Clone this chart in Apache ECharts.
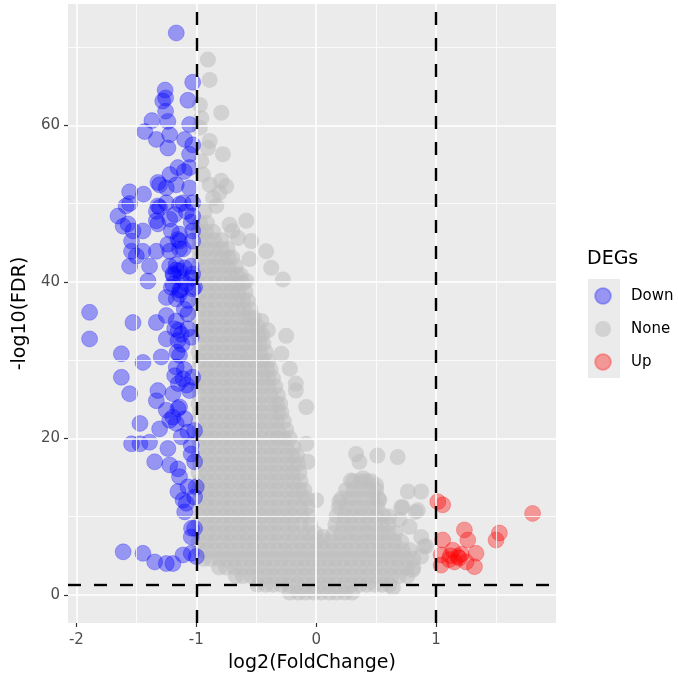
<!DOCTYPE html>
<html>
<head>
<meta charset="utf-8">
<script src="https://cdn.jsdelivr.net/npm/echarts@6/dist/echarts.min.js"></script>
<style>
  html, body { margin: 0; padding: 0; background: #fff; }
  #chart { width: 678px; height: 680px; }
</style>
</head>
<body>
<div id="chart"></div>
<script>
// axis ticks / grid
const xTicks = [-2, -1, 0, 1];
const xMinor = [-1.5, -0.5, 0.5, 1.5];
const yTicks = [0, 20, 40, 60];
const yMinor = [10, 30, 50, 70];
// thresholds
const fcCut = [-1, 1];
const fdrCut = 1.3;

// Down genes [log2FC, -log10FDR]
const downPoints = [
  [-1.167, 71.8], [-1.03, 65.5], [-1.26, 64.5], [-1.256, 63.5], [-1.28, 63.1], [-1.256, 61.8], [-1.07, 63.2],
  [-1.37, 60.6], [-1.43, 59.2], [-1.237, 60.5], [-1.056, 60.1], [-1.333, 58.2], [-1.222, 58.8], [-1.237, 57.1],
  [-1.097, 58.2], [-1.056, 56.3], [-1.03, 57.5], [-1.153, 54.6], [-1.1, 54.1], [-1.22, 53.7], [-1.306, 52.4],
  [-1.25, 52.0], [-1.167, 52.4], [-1.056, 52.0], [-1.556, 51.5], [-1.44, 51.2], [-1.03, 50.1], [-1.556, 50.0],
  [-1.32, 49.7], [-1.25, 50.1], [-1.11, 50.1], [-1.056, 54.6], [-1.32, 52.7], [-1.333, 49.0], [-1.14, 49.9],
  [-1.03, 48.4], [-1.653, 48.4], [-1.333, 47.8], [-1.222, 48.0], [-1.57, 47.4], [-1.528, 46.5], [-1.445, 46.5],
  [-1.208, 46.5], [-1.14, 46.1], [-1.03, 46.5], [-1.54, 45.2], [-1.14, 45.2], [-1.03, 45.2], [-1.54, 43.9],
  [-1.445, 43.9], [-1.333, 43.9], [-1.5, 43.3], [-1.14, 44.2], [-1.222, 42.0], [-1.167, 42.2], [-1.556, 42.0],
  [-1.39, 42.0], [-1.195, 41.0], [-1.125, 40.5], [-1.03, 41.0], [-1.403, 40.1], [-1.195, 39.7], [-1.083, 39.7],
  [-1.014, 39.3], [-1.25, 38.0], [-1.14, 38.4], [-1.89, 36.1], [-1.528, 34.8], [-1.333, 34.8], [-1.25, 35.7],
  [-1.167, 35.0], [-1.07, 35.9], [-1.89, 32.7], [-1.586, 49.7], [-1.306, 49.5], [-1.18, 48.6], [-1.083, 49.0],
  [-1.61, 47.1], [-1.32, 47.4], [-1.042, 47.6], [-1.237, 44.8], [-1.153, 45.4], [-1.222, 43.9], [-1.11, 44.2],
  [-1.14, 41.4], [-1.042, 42.0], [-1.042, 40.5], [-1.208, 39.3], [-1.14, 38.9], [-1.03, 39.1], [-1.167, 37.8],
  [-1.07, 37.6], [-1.18, 34.0], [-1.125, 33.3], [-1.07, 34.0], [-1.25, 32.7], [-1.153, 32.5], [-1.042, 32.9],
  [-1.625, 30.8], [-1.445, 29.7], [-1.292, 30.4], [-1.14, 30.6], [-1.167, 29.1], [-1.18, 28.0], [-1.11, 27.6],
  [-1.03, 27.8], [-1.625, 27.8], [-1.556, 25.7], [-1.32, 26.1], [-1.195, 25.7], [-1.056, 26.1],
  [-1.17, 41.5], [-1.1, 41.8], [-1.13, 39.0], [-1.19, 40.8], [-1.1, 36.5], [-1.15, 33.8], [-1.12, 32.0],
  [-1.16, 31.0], [-1.1, 28.8], [-1.15, 27.0], [-1.08, 26.8],
  [-1.333, 24.8], [-1.25, 23.6], [-1.153, 23.8], [-1.47, 21.9], [-1.306, 21.2], [-1.222, 22.3], [-1.167, 21.9],
  [-1.097, 22.5], [-1.07, 20.8], [-1.014, 21.0], [-1.125, 20.2], [-1.54, 19.3], [-1.47, 19.3], [-1.39, 19.5],
  [-1.237, 18.7], [-1.042, 19.1], [-1.042, 18.0], [-1.347, 17.0], [-1.222, 16.6], [-1.153, 16.1], [-1.014, 17.0],
  [-1.14, 15.1], [-1.07, 13.8], [-1.153, 13.2], [-1.11, 12.1], [-1.014, 12.5], [-1.083, 11.7], [-1.097, 10.6],
  [-1.014, 8.5], [-1.042, 7.4], [-1.61, 5.5], [-1.445, 5.3], [-1.347, 4.2], [-1.25, 4.0], [-1.195, 4.0],
  [-1.11, 5.1], [-1.042, 5.3], [-1.0, 4.9], [-1.14, 24.0], [-1.195, 22.7], [-1.0, 13.8], [-1.04, 8.5]
];

// Up genes
const upPoints = [
  [1.014, 11.9], [1.055, 11.5], [1.805, 10.4], [1.236, 8.3], [1.528, 7.9], [1.5, 7.0], [1.264, 7.0],
  [1.055, 7.0], [1.139, 5.7], [1.333, 5.3], [1.042, 5.1], [1.194, 4.7], [1.153, 4.2], [1.25, 4.2],
  [1.042, 3.8], [1.32, 3.6], [1.11, 4.5], [1.21, 5.2], [1.18, 4.9], [1.12, 5.0]
];

// None genes, dense cloud: [y, x, x, ...]
const noneRows = [
  [0.3, -0.22, -0.15, -0.09, -0.02, 0.04, 0.11, 0.17, 0.24, 0.30],
  [1.3, -0.49, -0.42, -0.36, -0.29, -0.23, -0.16, -0.10, -0.03, 0.03, 0.10, 0.16, 0.23, 0.29, 0.36, 0.42, 0.49, 0.55, 0.61],
  [2.4, -0.67, -0.61, -0.54, -0.48, -0.41, -0.35, -0.28, -0.22, -0.15, -0.09, -0.02, 0.04, 0.11, 0.17, 0.24, 0.30, 0.37, 0.43, 0.50, 0.56, 0.63, 0.69, 0.76],
  [3.5, -0.81, -0.75, -0.68, -0.62, -0.55, -0.49, -0.42, -0.36, -0.29, -0.23, -0.16, -0.10, -0.03, 0.03, 0.10, 0.16, 0.23, 0.29, 0.36, 0.42, 0.49, 0.55, 0.62, 0.68, 0.75, 0.81],
  [4.6, -0.94, -0.88, -0.81, -0.75, -0.68, -0.62, -0.55, -0.49, -0.42, -0.36, -0.29, -0.23, -0.16, -0.10, -0.03, 0.03, 0.10, 0.16, 0.23, 0.29, 0.36, 0.42, 0.49, 0.55, 0.62, 0.68, 0.75, 0.81],
  [5.7, -0.97, -0.91, -0.84, -0.78, -0.71, -0.65, -0.58, -0.52, -0.45, -0.39, -0.32, -0.26, -0.19, -0.13, -0.06, 0.00, 0.07, 0.13, 0.20, 0.26, 0.33, 0.39, 0.46, 0.52, 0.59, 0.65, 0.72, 0.78],
  [6.8, -0.98, -0.91, -0.85, -0.78, -0.72, -0.65, -0.59, -0.52, -0.46, -0.39, -0.33, -0.26, -0.20, -0.13, -0.07, 0.00, 0.06, 0.13, 0.19, 0.26, 0.32, 0.39, 0.45, 0.52, 0.58, 0.65, 0.71],
  [7.9, -0.97, -0.90, -0.84, -0.77, -0.71, -0.64, -0.58, -0.51, -0.45, -0.38, -0.32, -0.25, -0.19, -0.12, -0.06, -0.01, 0.15, 0.21, 0.28, 0.34, 0.41, 0.47, 0.54, 0.60, 0.66],
  [9.0, -0.98, -0.91, -0.85, -0.78, -0.72, -0.65, -0.59, -0.52, -0.46, -0.39, -0.33, -0.26, -0.20, -0.13, -0.05, 0.16, 0.23, 0.29, 0.36, 0.42, 0.49, 0.55, 0.60],
  [10.1, -0.97, -0.90, -0.84, -0.77, -0.71, -0.64, -0.58, -0.51, -0.45, -0.38, -0.32, -0.25, -0.19, -0.12, -0.06, 0.17, 0.24, 0.30, 0.37, 0.43, 0.50, 0.56],
  [11.2, -0.98, -0.91, -0.85, -0.78, -0.72, -0.65, -0.59, -0.52, -0.46, -0.39, -0.33, -0.26, -0.20, -0.13, -0.07, 0.19, 0.25, 0.32, 0.38, 0.45, 0.51],
  [12.3, -0.97, -0.90, -0.84, -0.77, -0.71, -0.64, -0.58, -0.51, -0.45, -0.38, -0.32, -0.25, -0.19, -0.12, -0.08, 0.21, 0.28, 0.34, 0.41, 0.47, 0.52],
  [13.4, -0.98, -0.91, -0.85, -0.78, -0.72, -0.65, -0.59, -0.52, -0.46, -0.39, -0.33, -0.26, -0.20, -0.14, -0.10, 0.25, 0.31, 0.38, 0.44, 0.50],
  [14.5, -0.97, -0.90, -0.84, -0.77, -0.71, -0.64, -0.58, -0.51, -0.45, -0.38, -0.32, -0.25, -0.19, -0.13, 0.31, 0.37, 0.42, 0.46],
  [15.6, -0.98, -0.91, -0.85, -0.78, -0.72, -0.65, -0.59, -0.52, -0.46, -0.39, -0.33, -0.26, -0.20, -0.14],
  [16.7, -0.97, -0.90, -0.84, -0.77, -0.71, -0.64, -0.58, -0.51, -0.45, -0.38, -0.32, -0.25, -0.19, -0.15],
  [17.8, -0.98, -0.91, -0.85, -0.78, -0.72, -0.65, -0.59, -0.52, -0.46, -0.39, -0.33, -0.26, -0.20, -0.16],
  [18.9, -0.97, -0.90, -0.84, -0.77, -0.71, -0.64, -0.58, -0.51, -0.45, -0.38, -0.32, -0.25, -0.19],
  [20.0, -0.98, -0.91, -0.85, -0.78, -0.72, -0.65, -0.59, -0.52, -0.46, -0.39, -0.33, -0.27, -0.22],
  [21.1, -0.97, -0.90, -0.84, -0.77, -0.71, -0.64, -0.58, -0.51, -0.45, -0.38, -0.32, -0.25],
  [22.2, -0.98, -0.91, -0.85, -0.78, -0.72, -0.65, -0.59, -0.52, -0.46, -0.39, -0.33, -0.27],
  [23.3, -0.97, -0.90, -0.84, -0.77, -0.71, -0.64, -0.58, -0.51, -0.45, -0.38, -0.32, -0.29],
  [24.4, -0.98, -0.91, -0.85, -0.78, -0.72, -0.65, -0.59, -0.52, -0.46, -0.39, -0.33, -0.30],
  [25.5, -0.97, -0.90, -0.84, -0.77, -0.71, -0.64, -0.58, -0.51, -0.45, -0.38, -0.32],
  [26.6, -0.98, -0.91, -0.85, -0.78, -0.72, -0.65, -0.59, -0.52, -0.46, -0.40, -0.34],
  [27.7, -0.97, -0.90, -0.84, -0.77, -0.71, -0.64, -0.58, -0.51, -0.45, -0.40, -0.36],
  [28.8, -0.98, -0.91, -0.85, -0.78, -0.72, -0.65, -0.59, -0.52, -0.46, -0.41, -0.38],
  [29.9, -0.97, -0.90, -0.84, -0.77, -0.71, -0.64, -0.58, -0.51, -0.45, -0.40],
  [31.0, -0.98, -0.91, -0.85, -0.78, -0.72, -0.65, -0.59, -0.53, -0.47, -0.42],
  [32.1, -0.97, -0.90, -0.84, -0.77, -0.71, -0.64, -0.58, -0.52, -0.47, -0.44],
  [33.2, -0.98, -0.91, -0.85, -0.78, -0.72, -0.65, -0.59, -0.53, -0.48, -0.45],
  [34.3, -0.97, -0.90, -0.84, -0.77, -0.71, -0.64, -0.58, -0.53, -0.49],
  [35.4, -0.98, -0.91, -0.85, -0.78, -0.72, -0.65, -0.59, -0.55, -0.52],
  [36.5, -0.97, -0.90, -0.84, -0.77, -0.71, -0.65, -0.60, -0.55],
  [37.6, -0.98, -0.91, -0.85, -0.78, -0.72, -0.66, -0.61, -0.57],
  [38.7, -0.97, -0.90, -0.84, -0.77, -0.71, -0.65, -0.59],
  [39.8, -0.98, -0.91, -0.85, -0.78, -0.72, -0.66, -0.61],
  [40.9, -0.97, -0.90, -0.84, -0.77, -0.71, -0.66, -0.63],
  [42.0, -0.98, -0.91, -0.85, -0.79, -0.73, -0.67],
  [43.1, -0.97, -0.90, -0.84, -0.78, -0.73, -0.70],
  [44.2, -0.98, -0.91, -0.85, -0.79, -0.74],
  [45.3, -0.97, -0.91, -0.85, -0.79],
  [46.4, -0.98, -0.92, -0.86],
  [47.5, -0.97, -0.91]
];

// None genes, scattered around the cloud edge
const noneExtra = [
  [-0.903, 68.4], [-0.889, 65.8], [-0.792, 61.6], [-0.97, 62.6], [-0.958, 60.9], [-0.97, 59.7], [-0.889, 58.0],
  [-0.903, 57.1], [-0.778, 56.3], [-0.958, 55.4], [-0.945, 53.7], [-0.792, 52.9], [-0.75, 52.2], [-0.889, 52.4],
  [-0.806, 51.4], [-0.86, 50.7], [-0.833, 49.7], [-0.93, 49.0], [-0.583, 47.8], [-0.722, 47.3], [-0.653, 45.6],
  [-0.542, 45.2], [-0.417, 43.9], [-0.375, 41.8], [-0.278, 40.3], [-0.583, 40.1], [-0.556, 42.9], [-0.7, 46.5],
  [-0.458, 35.0], [-0.403, 33.8], [-0.25, 33.1], [-0.29, 30.8], [-0.22, 28.9], [-0.17, 27.0], [-0.17, 26.1],
  [-0.083, 24.0], [-0.083, 19.3], [-0.07, 17.0], [0.0, 12.1], [0.055, 7.4],
  [0.333, 18.0], [0.36, 17.0], [0.51, 17.8], [0.68, 17.6], [0.29, 14.6], [0.39, 14.9], [0.5, 14.0],
  [0.764, 13.2], [0.875, 13.2], [0.194, 11.9], [0.527, 12.1], [0.71, 11.2], [0.847, 10.8], [0.61, 10.0],
  [0.694, 9.6], [0.778, 8.7], [0.875, 7.4], [0.9, 6.2], [0.875, 4.9], [0.805, 3.2], [0.64, 0.9],
  [0.917, 6.2], [0.83, 10.6], [0.72, 11.2]
];

const noneData = [];
noneRows.forEach((row) => {
  row.slice(1).forEach((x) => noneData.push([x, row[0]]));
});
noneExtra.forEach((p) => noneData.push(p));

const font = 'DejaVu Sans';
let chart = echarts.init(document.getElementById('chart'));

const pointSeries = (name, data, rgb, alpha, border) => ({
  name: name,
  type: 'scatter',
  data: data,
  symbol: 'circle',
  symbolSize: 16,
  z: 3,
  silent: true,
  itemStyle: {
    color: 'rgba(' + rgb + ',' + alpha + ')',
    borderColor: 'rgba(' + rgb + ',0.3)',
    borderWidth: border,
  },
  emphasis: { disabled: true },
});

const major = (axis, v) => ({ [axis]: v, lineStyle: { width: 1.6 } });
const minor = (axis, v) => ({ [axis]: v, lineStyle: { width: 0.8 } });

let option = {
  animation: false,
  backgroundColor: '#ffffff',
  title: {
    text: 'DEGs',
    left: 587,
    top: 250,
    padding: 0,
    textStyle: { fontFamily: font, fontSize: 19, fontWeight: 'normal', color: '#000' },
  },
  legend: {
    data: ['Down', 'None', 'Up'],
    orient: 'vertical',
    left: 594,
    top: 287,
    padding: 0,
    itemWidth: 30,
    itemHeight: 16,
    itemGap: 16,
    icon: 'circle',
    selectedMode: false,
    textStyle: { fontFamily: font, fontSize: 15, color: '#000', padding: [0, 0, 0, 8] },
  },
  graphic: [
    {
      type: 'rect',
      left: 588,
      top: 279,
      z: 0,
      shape: { width: 32, height: 99 },
      style: { fill: '#ebebeb' },
    },
  ],
  grid: {
    left: 68,
    right: 122,
    top: 4,
    bottom: 57,
    show: true,
    backgroundColor: '#ebebeb',
    borderWidth: 0,
  },
  xAxis: {
    type: 'value',
    min: -2.07,
    max: 2.0,
    name: 'log2(FoldChange)',
    nameLocation: 'middle',
    nameGap: 31,
    nameTextStyle: { fontFamily: font, fontSize: 19, color: '#000' },
    axisLine: { show: false, onZero: false },
    splitLine: { show: false },
    axisTick: {
      show: true,
      customValues: xTicks,
      length: 4,
      lineStyle: { color: '#333333', width: 1.2 },
    },
    axisLabel: {
      customValues: xTicks,
      margin: 10,
      fontFamily: font,
      fontSize: 15,
      color: '#4d4d4d',
    },
  },
  yAxis: {
    type: 'value',
    min: -3.6,
    max: 75.5,
    name: '-log10(FDR)',
    nameLocation: 'middle',
    nameGap: 35,
    nameRotate: 90,
    nameTextStyle: { fontFamily: font, fontSize: 19, color: '#000' },
    axisLine: { show: false, onZero: false },
    splitLine: { show: false },
    axisTick: {
      show: true,
      customValues: yTicks,
      length: 4,
      lineStyle: { color: '#333333', width: 1.2 },
    },
    axisLabel: {
      customValues: yTicks,
      margin: 8,
      fontFamily: font,
      fontSize: 15,
      color: '#4d4d4d',
    },
  },
  series: [
    {
      // white panel grid
      type: 'scatter',
      data: [],
      z: 1,
      silent: true,
      markLine: {
        silent: true,
        symbol: 'none',
        label: { show: false },
        lineStyle: { color: '#ffffff', type: 'solid' },
        data: [
          ...xMinor.map((v) => minor('xAxis', v)),
          ...yMinor.map((v) => minor('yAxis', v)),
          ...xTicks.map((v) => major('xAxis', v)),
          ...yTicks.map((v) => major('yAxis', v)),
        ],
      },
    },
    pointSeries('None', noneData, '190,190,190', 0.72, 0),
    pointSeries('Down', downPoints, '0,0,255', 0.45, 1),
    pointSeries('Up', upPoints, '255,0,0', 0.45, 1),
    {
      // cut-off lines
      type: 'scatter',
      data: [],
      z: 10,
      silent: true,
      markLine: {
        silent: true,
        symbol: 'none',
        label: { show: false },
        lineStyle: { color: '#000000', type: [13, 13], width: 2.4 },
        data: [...fcCut.map((v) => ({ xAxis: v })), { yAxis: fdrCut }],
      },
    },
  ],
};

window.addEventListener('resize', function () {
  chart.resize();
});
chart.setOption(option, true);
</script>
</body>
</html>
